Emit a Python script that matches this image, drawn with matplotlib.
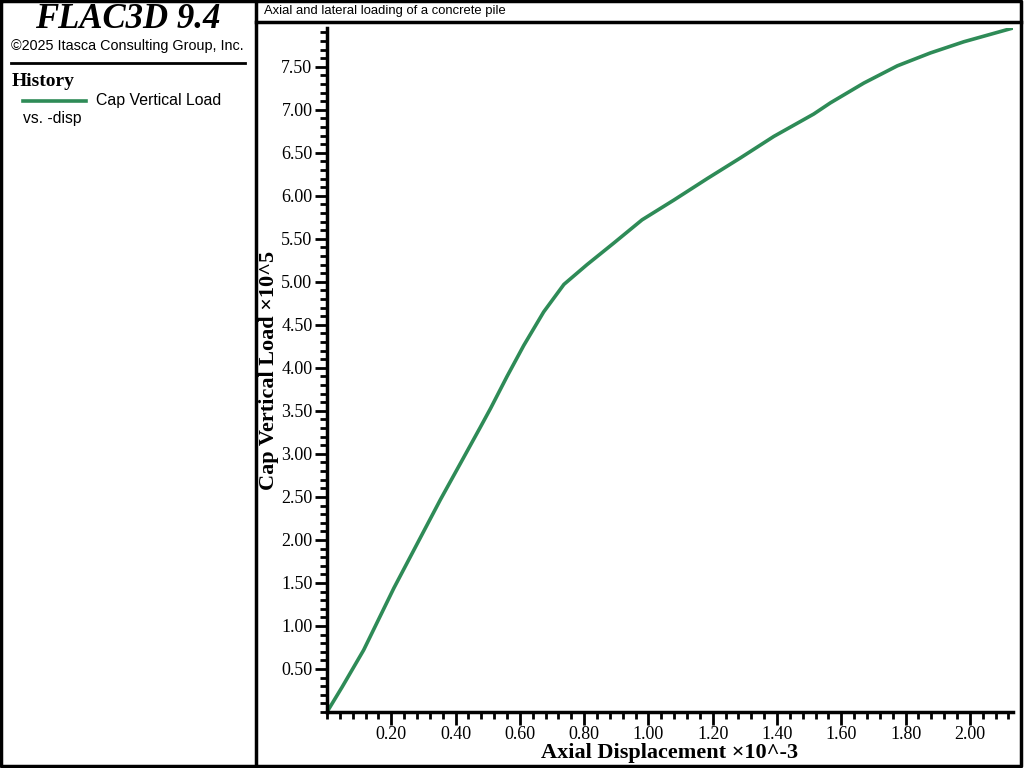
"""
FLAC3D history plot: cap vertical load vs. axial displacement of a concrete pile.
"""
import matplotlib
matplotlib.use("Agg")
import matplotlib.pyplot as plt
from matplotlib.lines import Line2D
from matplotlib.ticker import FixedLocator, MultipleLocator, FuncFormatter

# axial displacement (x10^-3) and cap vertical load (x10^5)
disp = [0.0, 0.047, 0.114, 0.208, 0.291, 0.353, 0.421, 0.477, 0.509, 0.560,
        0.612, 0.674, 0.737, 0.809, 0.892, 0.980, 1.079, 1.183, 1.286, 1.390,
        1.514, 1.566, 1.670, 1.774, 1.877, 1.981, 2.134]
load = [0.0, 0.29, 0.72, 1.44, 2.03, 2.47, 2.93, 3.31, 3.53, 3.90,
        4.26, 4.65, 4.97, 5.20, 5.45, 5.72, 5.95, 6.20, 6.44, 6.69,
        6.95, 7.08, 7.31, 7.51, 7.66, 7.79, 7.95]

x_major = [0.2, 0.4, 0.6, 0.8, 1.0, 1.2, 1.4, 1.6, 1.8, 2.0]
y_major = [0.5, 1.0, 1.5, 2.0, 2.5, 3.0, 3.5, 4.0, 4.5, 5.0, 5.5, 6.0, 6.5, 7.0, 7.5]

W, H = 1024, 768
GREEN = "#2e8b57"
SERIF = "Liberation Serif"
SANS = "Liberation Sans"


def px(x0, y0, x1, y1):
    """pixel box (top-left origin) -> figure fraction rect"""
    return [x0 / W, 1 - y1 / H, (x1 - x0) / W, (y1 - y0) / H]


fig = plt.figure(figsize=(W / 100, H / 100), dpi=100)

ax = fig.add_axes(px(327, 28, 1013, 712))
ax.plot(disp, load, color=GREEN, linewidth=2.6, solid_joinstyle="round")
ax.set_xlim(0, 2.134)
ax.set_ylim(0, 7.95)

for side in ["top", "right"]:
    ax.spines[side].set_visible(False)
for side in ["left", "bottom"]:
    ax.spines[side].set_linewidth(2.5)

ax.xaxis.set_major_locator(FixedLocator(x_major))
ax.yaxis.set_major_locator(FixedLocator(y_major))
ax.xaxis.set_minor_locator(MultipleLocator(0.04))
ax.yaxis.set_minor_locator(MultipleLocator(0.1))
fmt = FuncFormatter(lambda v, pos: f"{v:.2f}")
ax.xaxis.set_major_formatter(fmt)
ax.yaxis.set_major_formatter(fmt)
ax.tick_params(which="major", direction="out", length=9, width=2, labelsize=13)
ax.tick_params(which="minor", direction="out", length=5, width=2)
ax.tick_params(axis="x", which="major", pad=1)
ax.tick_params(axis="y", which="major", pad=1.5)
for lab in ax.get_xticklabels() + ax.get_yticklabels():
    lab.set_family(SERIF)

ax.set_xlabel("Axial Displacement ×10^-3", family=SERIF, fontweight="bold", fontsize=16)
ax.set_ylabel("Cap Vertical Load ×10^5", family=SERIF, fontweight="bold", fontsize=16)
ax.xaxis.set_label_coords(0.5, (712 - 753) / 684)
ax.xaxis.label.set_va("center")
ax.yaxis.set_label_coords((269 - 327) / 686, 0.5)
ax.yaxis.label.set_va("center")


# frame lines
def fline(xs, ys, lw=2.5):
    fig.add_artist(Line2D([x / W for x in xs], [1 - y / H for y in ys],
                          color="black", linewidth=lw))


fline([1, 1021, 1021, 1, 1], [1, 1, 766, 766, 1])
fline([256, 256], [0, 768])
fline([256, 1021], [22, 22])
fline([11, 245], [63, 63], lw=2)

fig.text(264 / W, 1 - 11 / H, "Axial and lateral loading of a concrete pile",
         family=SANS, fontsize=9.4, ha="left", va="center")

# left legend panel
fig.text(128 / W, 1 - 19 / H, "FLAC3D 9.4", family=SERIF, fontsize=25,
         fontweight="bold", style="italic", ha="center", va="center")
fig.text(127 / W, 1 - 46 / H, "©2025 Itasca Consulting Group, Inc.",
         family=SANS, fontsize=10.4, ha="center", va="center")
fig.text(12 / W, 1 - 82 / H, "History", family=SERIF, fontsize=14,
         fontweight="bold", ha="left", va="center")
fig.add_artist(Line2D([23 / W, 86 / W], [1 - 101 / H, 1 - 101 / H],
                      color=GREEN, linewidth=2.6))
fig.text(96 / W, 1 - 100 / H, "Cap Vertical Load", family=SANS, fontsize=11.4,
         ha="left", va="center")
fig.text(23 / W, 1 - 118 / H, "vs. -disp", family=SANS, fontsize=11.3,
         ha="left", va="center")

fig.savefig("out.png", dpi=100)
